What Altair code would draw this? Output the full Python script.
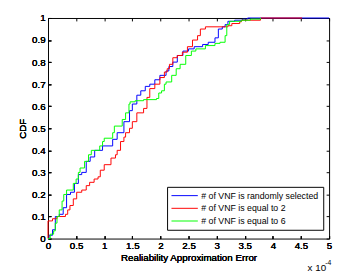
import altair as alt
import pandas as pd

series_names = ["# of VNF is randomly selected", "# of VNF is equal to 2", "# of VNF is equal to 6"]
series_colors = ["#0000FF", "#FF0000", "#00FF00"]

# Reliability approximation error (x 1e-4) and CDF values, step points
blue_x = [0, 0.02, 0.08, 0.13, 0.2, 0.27, 0.33, 0.4, 0.47, 0.54, 0.6, 0.68, 0.75, 0.83, 0.97, 1.15, 1.23,
          1.35, 1.45, 1.5, 1.58, 1.65, 1.73, 1.81, 1.9, 1.99, 2.1, 2.15, 2.22, 2.3, 2.4, 2.5, 2.6, 2.75,
          2.85, 2.97, 3.03, 3.1, 3.15, 3.2, 3.32, 3.46, 3.55, 5.0]
blue_y = [0, 0.015, 0.04, 0.1, 0.11, 0.14, 0.2, 0.21, 0.25, 0.29, 0.3, 0.35, 0.37, 0.40, 0.42, 0.45, 0.48,
          0.53, 0.58, 0.61, 0.65, 0.67, 0.69, 0.70, 0.72, 0.74, 0.76, 0.78, 0.80, 0.83, 0.85, 0.86, 0.87, 0.88,
          0.89, 0.91, 0.95, 0.96, 0.97, 0.985, 0.99, 0.995, 1.0, 1.0]

red_x = [0, 0, 0.08, 0.16, 0.31, 0.35, 0.39, 0.45, 0.51, 0.6, 0.68, 0.74, 0.82, 0.89, 0.93, 1.0, 1.12, 1.2,
         1.23, 1.29, 1.35, 1.38, 1.45, 1.5, 1.58, 1.7, 1.76, 1.81, 1.9, 1.99, 2.07, 2.12, 2.16, 2.22, 2.3,
         2.39, 2.48, 2.57, 2.66, 2.71, 2.8, 3.2, 3.27, 3.41, 3.44, 3.78, 4.52]
red_y = [0, 0.08, 0.09, 0.1, 0.11, 0.13, 0.15, 0.18, 0.21, 0.22, 0.24, 0.255, 0.27, 0.28, 0.31, 0.335, 0.365,
         0.38, 0.40, 0.44, 0.46, 0.48, 0.50, 0.53, 0.57, 0.59, 0.64, 0.68, 0.70, 0.73, 0.755, 0.77, 0.79, 0.82,
         0.83, 0.845, 0.87, 0.90, 0.92, 0.95, 0.96, 0.965, 0.975, 0.983, 0.99, 1.0, 1.0]

green_x = [0, 0.04, 0.1, 0.13, 0.16, 0.2, 0.25, 0.28, 0.33, 0.45, 0.5, 0.54, 0.57, 0.65, 0.72, 0.77, 0.92,
           0.97, 1.0, 1.15, 1.18, 1.32, 1.38, 1.44, 1.46, 1.55, 1.7, 1.93, 1.97, 2.02, 2.07, 2.1, 2.2, 2.28,
           2.35, 2.45, 2.55, 2.63, 2.8, 2.97, 3.06, 3.15, 3.18, 3.23, 3.44, 3.6, 3.78]
green_y = [0, 0.02, 0.035, 0.07, 0.1, 0.13, 0.17, 0.2, 0.22, 0.25, 0.27, 0.3, 0.32, 0.35, 0.38, 0.40, 0.42,
           0.44, 0.455, 0.48, 0.51, 0.54, 0.57, 0.61, 0.62, 0.625, 0.63, 0.635, 0.66, 0.67, 0.70, 0.71, 0.74,
           0.77, 0.79, 0.83, 0.85, 0.86, 0.875, 0.885, 0.89, 0.92, 0.97, 0.985, 0.99, 0.995, 1.0]

x_ticks = [0, 0.5, 1, 1.5, 2, 2.5, 3, 3.5, 4, 4.5, 5]
y_ticks = [0, 0.1, 0.2, 0.3, 0.4, 0.5, 0.6, 0.7, 0.8, 0.9, 1]

x_title = "Realiability Approximation Error"
y_title = "CDF"

FONT = "Liberation Sans Narrow, Liberation Sans, Arial, sans-serif"

rows = []
for name, xs, ys in zip(series_names, [blue_x, red_x, green_x], [blue_y, red_y, green_y]):
    for i, (xv, yv) in enumerate(zip(xs, ys)):
        rows.append({"series": name, "err": xv, "cdf": yv, "idx": i})
df = pd.DataFrame(rows)

xscale = alt.Scale(domain=[0, 5], nice=False, zero=False)
yscale = alt.Scale(domain=[0, 1], nice=False)
color = alt.Color(
    "series:N",
    scale=alt.Scale(domain=series_names, range=series_colors),
    legend=alt.Legend(
        title=None, orient="none", legendX=122, legendY=173,
        symbolType="M-1,0H5", symbolSize=81, symbolStrokeWidth=1,
        labelFont=FONT, labelFontSize=9, labelOffset=21, labelLimit=400,
        padding=4, rowPadding=3, strokeColor="black", fillColor="white",
    ),
)

x_bottom = alt.X("err:Q", scale=xscale, axis=alt.Axis(
    values=x_ticks, format="~g", title=x_title, orient="bottom", grid=False, domain=False,
    tickSize=3, offset=-3, labelPadding=2, labelFont=FONT, labelFontSize=10, labelColor="black",
    tickColor="black", titleFont=FONT, titleFontSize=10, titleFontWeight="normal", titlePadding=2,
    titleColor="black", labelFlush=False))
y_left = alt.Y("cdf:Q", scale=yscale, axis=alt.Axis(
    values=y_ticks, format="~g", title=y_title, orient="left", grid=False, domain=False,
    tickSize=3, offset=-3, labelPadding=3, labelFont=FONT, labelFontSize=10, labelColor="black",
    tickColor="black", titleFont=FONT, titleFontSize=10, titleFontWeight="normal", titlePadding=4,
    titleColor="black", labelFlush=False))

layers = []
for name in series_names:
    layers.append(
        alt.Chart(df).transform_filter(alt.datum.series == name)
        .mark_line(interpolate="step-after", strokeWidth=1)
        .encode(x=x_bottom, y=y_left, color=color, order="idx:Q")
    )

frame = alt.Chart(df).mark_point(opacity=0).encode(
    x=alt.X("err:Q", scale=xscale, axis=alt.Axis(
        values=x_ticks, orient="top", labels=False, title=None, grid=False, domain=False,
        tickSize=3, offset=-3, tickColor="black")),
    y=alt.Y("cdf:Q", scale=yscale, axis=alt.Axis(
        values=y_ticks, orient="right", labels=False, title=None, grid=False, domain=False,
        tickSize=3, offset=-3, tickColor="black")),
)

exp_base = alt.Chart(pd.DataFrame({"t": ["x 10"]})).mark_text(
    font=FONT, fontSize=10, align="left", baseline="middle", color="black"
).encode(x=alt.value(266), y=alt.value(256), text="t:N")
exp_sup = alt.Chart(pd.DataFrame({"t": ["-4"]})).mark_text(
    font=FONT, fontSize=7, align="left", baseline="middle", color="black"
).encode(x=alt.value(284), y=alt.value(251), text="t:N")

chart = alt.layer(*layers, frame, exp_base, exp_sup).resolve_axis(
    x="independent", y="independent"
).properties(
    width=288, height=226,
    autosize=alt.AutoSizeParams(type="none"),
    padding={"left": 41, "top": 7, "right": 4, "bottom": 31},
    background="white",
).configure_view(stroke="black", strokeWidth=1).configure_axis(titleFontWeight="normal")

chart.save("out.html", embed_options={"renderer": "svg", "actions": False})
